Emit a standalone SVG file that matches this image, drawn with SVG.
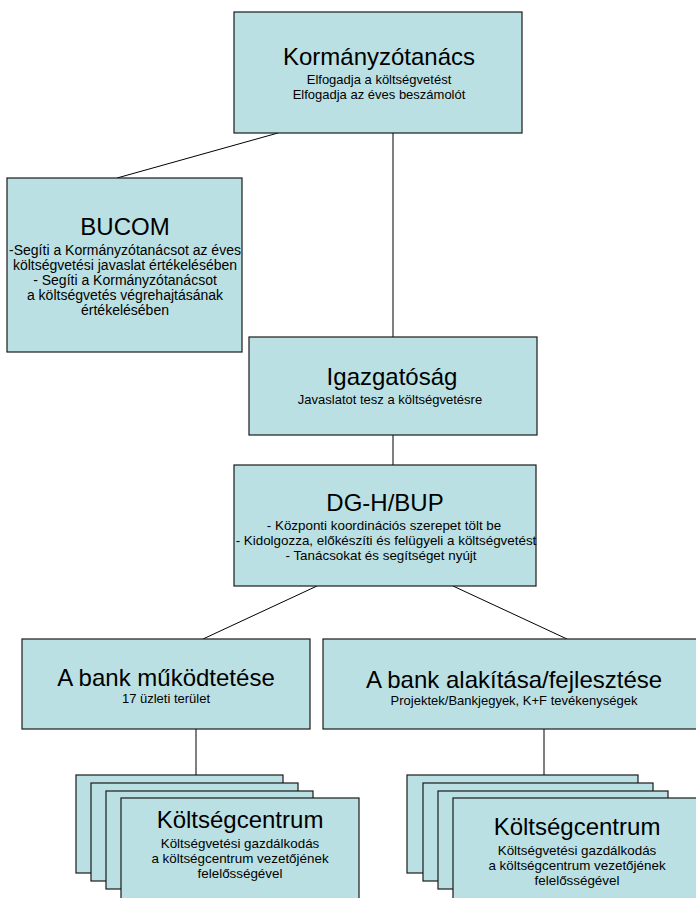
<svg xmlns="http://www.w3.org/2000/svg" width="696" height="898" viewBox="0 0 696 898">
<style>
.box{fill:#BBE0E3;stroke:#1a1a1a;stroke-width:1.2}
.ln{stroke:#000;stroke-width:1;fill:none}
text{font-family:"Liberation Sans",Arial,sans-serif;fill:#000;text-anchor:middle}
.t{font-size:24px}
.s{font-size:13px}
.sb{font-size:14px}
.sd{font-size:13.4px}
</style>
<rect width="696" height="898" fill="#fff"/>
<g id="connectors">
<line class="ln" x1="278" y1="133" x2="117" y2="178"/>
<line class="ln" x1="393" y1="133" x2="393" y2="337"/>
<line class="ln" x1="393" y1="435" x2="393" y2="465"/>
<line class="ln" x1="317" y1="586" x2="203" y2="639"/>
<line class="ln" x1="453" y1="586" x2="567" y2="639"/>
<line class="ln" x1="196" y1="729" x2="196" y2="775"/>
<line class="ln" x1="544" y1="729" x2="544" y2="775"/>
</g>
<g id="kormanyzotanacs">
<rect class="box" x="234" y="12" width="288" height="121"/>
<text class="t" x="379" y="65">Kormányzótanács</text>
<text class="s" x="379" y="84">Elfogadja a költségvetést</text>
<text class="s" x="379" y="99">Elfogadja az éves beszámolót</text>
</g>
<g id="bucom">
<rect class="box" x="7" y="178" width="235" height="174"/>
<text class="t" x="125" y="235">BUCOM</text>
<text class="sb" x="125" y="255">-Segíti a Kormányzótanácsot az éves</text>
<text class="sb" x="125" y="270">költségvetési javaslat értékelésében</text>
<text class="sb" x="125" y="285">- Segíti a Kormányzótanácsot</text>
<text class="sb" x="125" y="300">a költségvetés végrehajtásának</text>
<text class="sb" x="125" y="315">értékelésében</text>
</g>
<g id="igazgatosag">
<rect class="box" x="249" y="337" width="288" height="98"/>
<text class="t" x="392" y="385">Igazgatóság</text>
<text class="s" x="390" y="404">Javaslatot tesz a költségvetésre</text>
</g>
<g id="dghbup">
<rect class="box" x="234" y="465" width="302" height="121"/>
<text class="t" x="385" y="511">DG-H/BUP</text>
<text class="sd" x="384" y="530">- Központi koordinációs szerepet tölt be</text>
<text class="sd" x="386" y="545">- Kidolgozza, előkészíti és felügyeli a költségvetést</text>
<text class="sd" x="381" y="560">- Tanácsokat és segítséget nyújt</text>
</g>
<g id="bank-mukodtetese">
<rect class="box" x="22" y="639" width="288" height="90"/>
<text class="t" x="166" y="686">A bank működtetése</text>
<text class="s" x="166" y="703">17 üzleti terület</text>
</g>
<g id="bank-alakitasa">
<rect class="box" x="323" y="639" width="382" height="90"/>
<text class="t" x="514" y="688">A bank alakítása/fejlesztése</text>
<text class="s" x="514" y="705">Projektek/Bankjegyek, K+F tevékenységek</text>
</g>
<g id="koltsegcentrum-left">
<rect class="box" x="76" y="775" width="207" height="98"/>
<rect class="box" x="91" y="783" width="207" height="98"/>
<rect class="box" x="106" y="791" width="207" height="98"/>
<rect class="box" x="121" y="798" width="238" height="106"/>
<text class="t" x="240" y="828">Költségcentrum</text>
<text class="sd" x="240" y="848">Költségvetési gazdálkodás</text>
<text class="sd" x="240" y="863">a költségcentrum vezetőjének</text>
<text class="sd" x="240" y="878">felelősségével</text>
</g>
<g id="koltsegcentrum-right">
<rect class="box" x="407" y="775" width="231" height="98"/>
<rect class="box" x="423" y="783" width="230" height="98"/>
<rect class="box" x="438" y="791" width="230" height="98"/>
<rect class="box" x="453" y="798" width="250" height="106"/>
<text class="t" x="577" y="835">Költségcentrum</text>
<text class="sd" x="577" y="855">Költségvetési gazdálkodás</text>
<text class="sd" x="577" y="870">a költségcentrum vezetőjének</text>
<text class="sd" x="577" y="885">felelősségével</text>
</g>
</svg>
